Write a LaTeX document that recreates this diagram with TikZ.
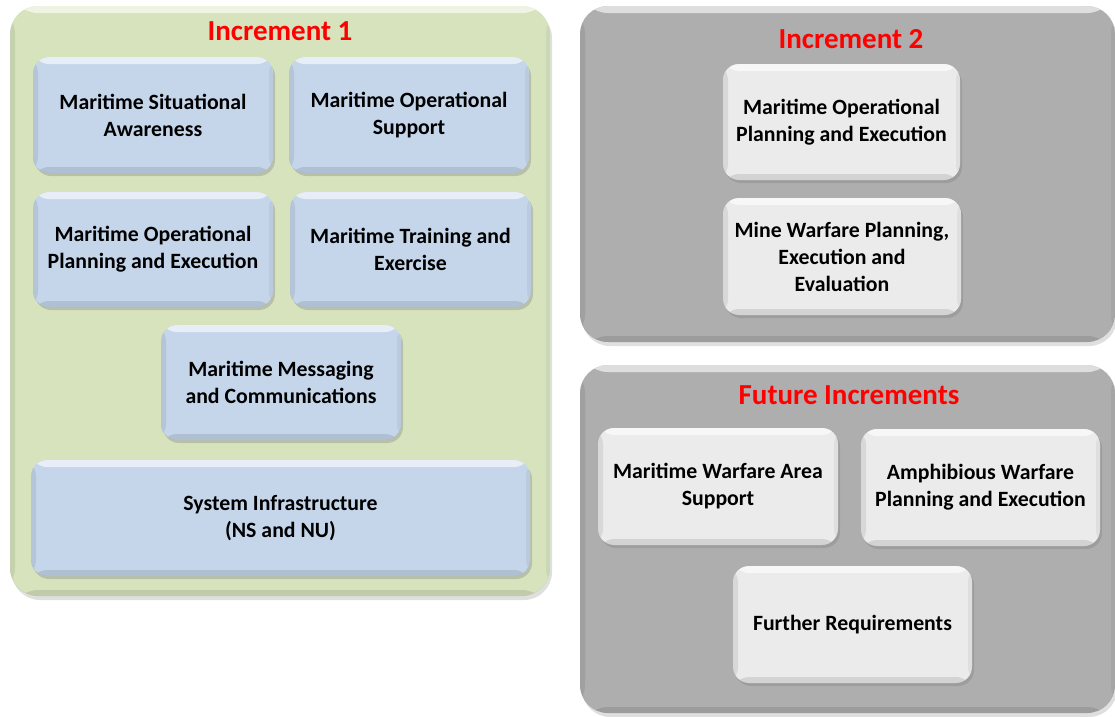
\documentclass[tikz,border=0pt]{standalone}
\usepackage{fontspec}
\setmainfont{Carlito}
\usetikzlibrary{shadows}
\definecolor{grn}{RGB}{215,227,189}
\definecolor{blu}{RGB}{197,214,235}
\definecolor{gry}{RGB}{174,174,174}
\definecolor{lgry}{RGB}{235,235,235}
\definecolor{ttl}{RGB}{255,0,0}
\begin{document}
\begin{tikzpicture}[x=1pt,y=-1pt,
  bevel/.style={path picture={
    \fill[white,opacity=0.6] (path picture bounding box.north west) rectangle ([yshift=-7pt]path picture bounding box.north east);
    \fill[black,opacity=0.10] (path picture bounding box.south west) rectangle ([yshift=6pt]path picture bounding box.south east);
    \fill[black,opacity=0.08] (path picture bounding box.south west) rectangle ([xshift=5pt]path picture bounding box.north west);
    \fill[black,opacity=0.05] (path picture bounding box.south east) rectangle ([xshift=-4pt]path picture bounding box.north east);
  }},
  outerbox/.style={draw=none, rounded corners=28pt, inner sep=0pt, bevel,
    drop shadow={opacity=0.25, shadow xshift=2pt, shadow yshift=-4pt}},
  grnbox/.style={outerbox, fill=grn},
  grybox/.style={outerbox, fill=gry},
  item/.style={draw=none, rounded corners=16pt, inner sep=0pt, align=center, bevel,
    font=\fontsize{21.8}{27}\selectfont\bfseries, text=black,
    drop shadow={opacity=0.35, shadow xshift=2pt, shadow yshift=-3pt}},
  bluitem/.style={item, fill=blu},
  gryitem/.style={item, fill=lgry},
  title/.style={font=\fontsize{29}{32}\selectfont\bfseries, text=ttl}
]
\useasboundingbox (0,0) rectangle (1115,716);
% outer containers
\node[grnbox, minimum width=540pt, minimum height=590pt] (inc1) at (280,301) {};
\node[grybox, minimum width=535pt, minimum height=336pt] (inc2) at (847.5,174) {};
\node[grybox, minimum width=535pt, minimum height=348pt] (fut) at (847.5,539) {};
% titles
\node[title] (t1) at (280,31) {Increment 1};
\node[title] (t2) at (851,39) {Increment 2};
\node[title] (t3) at (849,395) {Future Increments};
% increment 1 items
\node[bluitem, minimum width=240pt, minimum height=116pt] (msa) at (153,115) {Maritime Situational\\Awareness};
\node[bluitem, minimum width=240pt, minimum height=116pt] (mos) at (409,115) {Maritime Operational\\Support};
\node[bluitem, minimum width=240pt, minimum height=115pt] (mope) at (153,249.5) {Maritime Operational\\Planning and Execution};
\node[bluitem, minimum width=241pt, minimum height=115pt] (mte) at (410.5,249.5) {Maritime Training and\\Exercise};
\node[bluitem, minimum width=240pt, minimum height=115pt] (mmc) at (281,382.5) {Maritime Messaging\\and Communications};
\node[bluitem, minimum width=499pt, minimum height=116pt] (si) at (280.5,518) {System Infrastructure\\(NS and NU)};
% increment 2 items
\node[gryitem, minimum width=237pt, minimum height=116pt] (mope2) at (841.5,122) {Maritime Operational\\Planning and Execution};
\node[gryitem, minimum width=238pt, minimum height=117pt] (mwp) at (842,256.5) {Mine Warfare Planning,\\Execution and\\Evaluation};
% future items
\node[gryitem, minimum width=240pt, minimum height=117pt] (mwas) at (718,486.5) {Maritime Warfare Area\\Support};
\node[gryitem, minimum width=239pt, minimum height=117pt] (awpe) at (980.5,487.5) {Amphibious Warfare\\Planning and Execution};
\node[gryitem, minimum width=239pt, minimum height=117pt] (fr) at (852.5,624.5) {Further Requirements};
\end{tikzpicture}
\end{document}
